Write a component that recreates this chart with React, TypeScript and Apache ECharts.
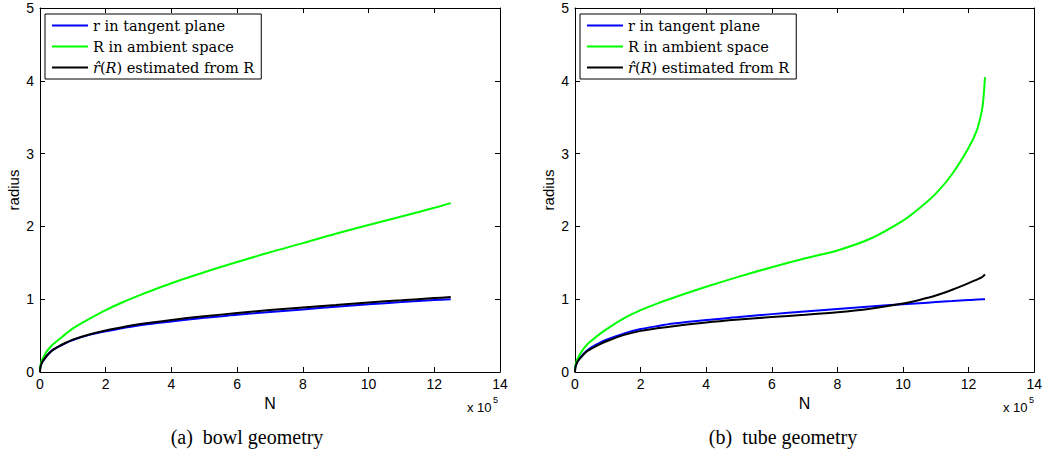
import React, { useEffect, useRef } from "react";
import * as echarts from "echarts";

const N_A = [0, 0.01, 0.05, 0.1, 0.2, 0.35, 0.5, 0.75, 1, 1.5, 2, 2.5, 3, 4, 5, 6, 7, 8, 9, 10, 11, 12, 12.5];
const BLUE_A = [0, 0.06, 0.12, 0.16, 0.22, 0.29, 0.33, 0.39, 0.44, 0.51, 0.56, 0.6, 0.64, 0.695, 0.745, 0.785, 0.825, 0.86, 0.895, 0.93, 0.96, 0.99, 1.0];
const BLACK_A = [0, 0.06, 0.12, 0.16, 0.22, 0.29, 0.335, 0.395, 0.445, 0.515, 0.57, 0.615, 0.655, 0.715, 0.765, 0.81, 0.85, 0.885, 0.92, 0.955, 0.985, 1.015, 1.03];
const GREEN_A = [0, 0.08, 0.15, 0.2, 0.28, 0.36, 0.42, 0.51, 0.6, 0.73, 0.85, 0.955, 1.05, 1.22, 1.37, 1.51, 1.645, 1.77, 1.9, 2.02, 2.135, 2.255, 2.32];

const N_B = [0, 0.01, 0.05, 0.1, 0.2, 0.35, 0.5, 0.75, 1, 1.5, 2, 2.5, 3, 4, 5, 6, 7, 8, 9, 10, 10.5, 11, 11.5, 12, 12.25, 12.4, 12.45, 12.5];
const BLUE_B = [0, 0.06, 0.12, 0.16, 0.22, 0.29, 0.34, 0.4, 0.45, 0.53, 0.59, 0.63, 0.665, 0.715, 0.755, 0.795, 0.83, 0.865, 0.9, 0.93, 0.945, 0.96, 0.975, 0.99, 0.995, 0.998, 0.999, 1.0];
const BLACK_B = [0, 0.06, 0.12, 0.16, 0.21, 0.28, 0.32, 0.38, 0.43, 0.51, 0.565, 0.6, 0.63, 0.68, 0.72, 0.755, 0.785, 0.82, 0.87, 0.94, 0.99, 1.05, 1.13, 1.22, 1.27, 1.3, 1.32, 1.34];
const GREEN_B = [0, 0.08, 0.15, 0.2, 0.28, 0.37, 0.43, 0.52, 0.6, 0.74, 0.85, 0.94, 1.02, 1.17, 1.31, 1.44, 1.56, 1.67, 1.83, 2.08, 2.25, 2.45, 2.72, 3.08, 3.32, 3.58, 3.75, 4.05];

const X_MIN = 0, X_MAX = 14, X_STEP = 2;
const Y_MIN = 0, Y_MAX = 5, Y_STEP = 1;

const NAMES = ["r in tangent plane", "R in ambient space", "rhat"];
const COLORS = ["#0000ff", "#00ff00", "#000000"];
const CAPTIONS = ["(a)  bowl geometry", "(b)  tube geometry"];

const pairs = (xs: number[], ys: number[]) => xs.map((x, i) => [x, ys[i]]);

const SANS = "Liberation Sans";
const SERIF = "DejaVu Serif";
const CAP_SERIF = "Liberation Serif";

export default function App() {
  const ref = useRef<HTMLDivElement>(null);
  useEffect(() => {
    if (!ref.current) return;
    const chart = echarts.init(ref.current, undefined, { renderer: "svg" });
    const grids = [
      { left: 40, top: 8, width: 460, height: 364 },
      { left: 575, top: 8, width: 461, height: 364 },
    ];
    const captionX = [247, 783];
    const xAxes: any[] = [];
    const yAxes: any[] = [];
    grids.forEach((g, gi) => {
      const base = {
        gridIndex: gi,
        type: "value",
        min: X_MIN,
        max: X_MAX,
        interval: X_STEP,
        splitLine: { show: false },
        axisLine: { show: true, onZero: false, lineStyle: { color: "#000", width: 1 } },
        axisTick: { show: true, inside: true, length: 5, lineStyle: { color: "#000" } },
      };
      xAxes.push({
        ...base,
        position: "bottom",
        name: "N",
        nameLocation: "middle",
        nameGap: 21,
        nameTextStyle: { fontFamily: SANS, fontSize: 16, color: "#000" },
        axisLabel: { fontFamily: SANS, fontSize: 14, color: "#000", margin: 5 },
      });
      xAxes.push({ ...base, position: "top", axisLabel: { show: false } });
      const ybase = {
        gridIndex: gi,
        type: "value",
        min: Y_MIN,
        max: Y_MAX,
        interval: Y_STEP,
        splitLine: { show: false },
        axisLine: { show: true, onZero: false, lineStyle: { color: "#000", width: 1 } },
        axisTick: { show: true, inside: true, length: 5, lineStyle: { color: "#000" } },
      };
      yAxes.push({
        ...ybase,
        position: "left",
        name: "radius",
        nameLocation: "middle",
        nameGap: 19,
        nameTextStyle: { fontFamily: SANS, fontSize: 15, color: "#000" },
        axisLabel: { fontFamily: SANS, fontSize: 14, color: "#000", margin: 6 },
      });
      yAxes.push({ ...ybase, position: "right", axisLabel: { show: false } });
    });

    const datasets = [
      [BLUE_A, GREEN_A, BLACK_A, N_A],
      [BLUE_B, GREEN_B, BLACK_B, N_B],
    ];
    const series: any[] = [];
    datasets.forEach((d, gi) => {
      const xs = d[3];
      for (let k = 0; k < 3; k++) {
        series.push({
          type: "line",
          name: NAMES[k],
          xAxisIndex: gi * 2,
          yAxisIndex: gi * 2,
          data: pairs(xs, d[k]),
          showSymbol: false,
          symbol: "none",
          smooth: 0.3,
          lineStyle: { color: COLORS[k], width: 2 },
          itemStyle: { color: COLORS[k] },
          z: 2 + k,
        });
      }
    });

    const legendFmt = (name: string) =>
      name === "rhat" ? "{i|r\u0302}({i|R}) estimated from R" : name;
    const legends = grids.map((g) => ({
      orient: "vertical",
      left: g.left + 5,
      top: 14,
      data: NAMES.map((n) => ({ name: n, icon: "rect" })),
      itemWidth: 36,
      itemHeight: 2,
      itemGap: 6,
      padding: [4, 7, 4, 7],
      borderColor: "#000",
      borderWidth: 1,
      backgroundColor: "#fff",
      selectedMode: false,
      formatter: legendFmt,
      textStyle: {
        fontFamily: SERIF,
        fontSize: 14.5,
        color: "#000",
        lineHeight: 14,
        rich: { i: { fontFamily: SERIF, fontStyle: "italic", fontSize: 14.5, color: "#000" } },
      },
    }));

    const graphic: any[] = [];
    grids.forEach((g, gi) => {
      const right = g.left + g.width;
      graphic.push({
        type: "text",
        left: right - 33,
        top: 401,
        style: { text: "x 10", fontFamily: SANS, fontSize: 13, fill: "#000" },
      });
      graphic.push({
        type: "text",
        left: right - 7,
        top: 395,
        style: { text: "5", fontFamily: SANS, fontSize: 9, fill: "#000" },
      });
      graphic.push({
        type: "text",
        x: captionX[gi],
        y: 437,
        style: {
          text: CAPTIONS[gi],
          fontFamily: CAP_SERIF,
          fontSize: 20,
          fill: "#000",
          align: "center",
          verticalAlign: "middle",
        },
      });
    });

    chart.setOption({
      animation: false,
      backgroundColor: "#fff",
      grid: grids,
      xAxis: xAxes,
      yAxis: yAxes,
      legend: legends,
      series,
      graphic,
    });
    return () => chart.dispose();
  }, []);
  return (
    <div
      ref={ref}
      style={{ position: "fixed", left: 0, top: 0, width: 1045, height: 455 }}
    />
  );
}
